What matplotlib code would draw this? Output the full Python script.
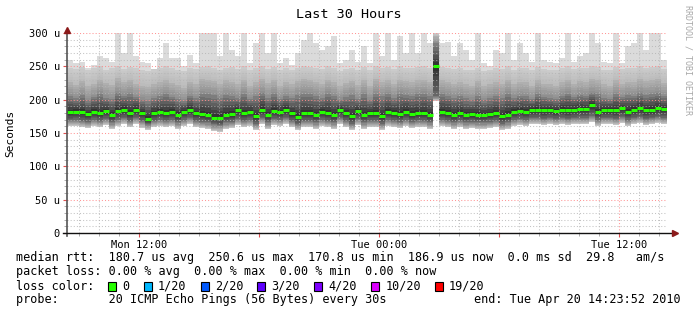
import matplotlib
matplotlib.use("Agg")
import matplotlib.pyplot as plt
import numpy as np
from matplotlib.patches import Rectangle

plt.rcParams['font.family'] = ['DejaVu Sans Mono']

# time axis: hours since Monday 00:00, 30 hour window ending Tue 14:23:52
t_end = 38 + 23 / 60 + 52 / 3600
window = 30.0
col_hours = 0.3   # one smoke column = 18 minutes

# median rtt per column (microseconds)
median_rtt = [181, 182, 181, 178, 182, 180, 183, 177, 183, 185, 180, 185, 180, 171, 180, 182, 180, 182, 177, 182,
              185, 180, 178, 177, 173, 173, 177, 178, 184, 180, 182, 175, 185,
              177, 183, 182, 185, 180, 174, 180, 180, 177, 182, 180, 177, 185, 180, 175, 183, 177, 180, 180, 175,
              182, 180, 178, 182, 178, 180, 180, 177, 250, 182, 180, 177, 180, 177,
              178, 177, 177, 178, 180, 175, 177, 182, 183, 182, 185, 185, 184, 185, 183, 185, 184, 185, 186, 186,
              192, 182, 185, 185, 184, 187, 182, 185, 187, 184, 185, 187, 186]

# smoke envelopes (microseconds), bottom to top
smoke_bottom = [160, 161, 159, 157, 161, 159, 162, 156, 161, 163, 159, 163, 158, 154, 159, 161, 159, 161, 156, 161,
                163, 159, 157, 156, 153, 152, 156, 157, 162, 159, 161, 155, 163,
                156, 162, 161, 163, 159, 155, 159, 159, 156, 161, 159, 156, 163, 159, 155, 162, 156, 159, 159, 155,
                161, 159, 157, 161, 157, 159, 159, 156, 198, 161, 159, 156, 159, 156,
                157, 156, 156, 157, 159, 155, 156, 161, 162, 161, 163, 163, 162, 163, 162, 163, 162, 163, 164, 164,
                167, 161, 163, 163, 162, 165, 161, 163, 165, 162, 163, 165, 164]
smoke_low = [169, 170, 168, 167, 170, 168, 171, 166, 170, 172, 168, 172, 168, 163, 168, 170, 168, 170, 166, 170,
             172, 168, 167, 166, 163, 162, 166, 167, 171, 168, 170, 164, 172,
             166, 171, 170, 172, 168, 164, 168, 168, 166, 170, 168, 166, 172, 168, 164, 171, 166, 168, 168, 164,
             170, 168, 167, 170, 167, 168, 168, 166, 205, 170, 168, 166, 168, 166,
             167, 166, 166, 167, 168, 164, 166, 170, 171, 170, 172, 172, 171, 172, 171, 172, 171, 172, 173, 173,
             176, 170, 172, 172, 171, 174, 170, 172, 174, 171, 172, 174, 173]
smoke_dark_top = [205, 202, 207, 199, 204, 209, 203, 201, 210, 206, 208, 204, 200, 198, 202, 205, 208, 204, 201, 198,
                  206, 202, 209, 208, 207, 203, 207, 206, 203, 209, 201, 205, 210,
                  203, 208, 201, 205, 202, 207, 209, 208, 206, 203, 209, 205, 200, 204, 207, 201, 208, 200, 209, 205,
                  208, 203, 209, 207, 205, 208, 209, 206, 285, 208, 206, 203, 205, 202,
                  200, 206, 199, 202, 205, 203, 209, 203, 206, 205, 201, 208, 204, 203, 201, 206, 209, 204, 207, 206,
                  210, 208, 203, 201, 208, 204, 207, 206, 210, 207, 208, 210, 205]
smoke_mid_top = [226, 222, 228, 220, 224, 230, 225, 222, 232, 227, 230, 224, 221, 219, 223, 226, 229, 225, 222, 218,
                 227, 223, 231, 230, 228, 224, 229, 227, 223, 230, 221, 226, 231,
                 225, 230, 221, 226, 223, 228, 231, 230, 227, 224, 230, 226, 220, 225, 228, 222, 229, 221, 231, 226,
                 229, 224, 230, 228, 226, 229, 230, 227, 295, 229, 227, 224, 226, 223,
                 221, 228, 220, 223, 226, 224, 230, 223, 227, 226, 221, 229, 224, 223, 221, 226, 230, 224, 228, 226,
                 231, 229, 223, 221, 229, 224, 227, 226, 231, 228, 229, 231, 225]
smoke_light_top = [248, 246, 249, 244, 247, 250, 245, 248, 250, 246, 249, 247, 244, 243, 246, 248, 250, 247, 245, 243,
                   248, 246, 249, 250, 248, 245, 247, 249, 246, 250, 244, 248, 250,
                   246, 249, 244, 247, 245, 248, 250, 249, 247, 246, 250, 248, 243, 246, 248, 245, 249, 244, 250, 247,
                   249, 246, 250, 248, 247, 249, 250, 248, 300, 249, 248, 246, 247, 245,
                   244, 248, 243, 245, 247, 246, 250, 245, 248, 247, 244, 249, 246, 245, 244, 247, 250, 246, 248, 247,
                   250, 249, 245, 244, 249, 246, 248, 247, 250, 248, 249, 250, 246]
smoke_max = [260, 255, 257, 247, 252, 265, 262, 257, 300, 270, 300, 265, 257, 255, 245, 262, 285, 262, 262, 250,
             267, 255, 300, 300, 300, 265, 300, 275, 265, 300, 255, 285, 300,
             270, 300, 255, 262, 252, 270, 290, 300, 285, 275, 280, 295, 255, 260, 275, 257, 280, 255, 300, 265,
             300, 260, 295, 270, 300, 270, 300, 285, 300, 285, 287, 265, 285, 275,
             260, 300, 255, 250, 275, 270, 300, 260, 285, 270, 257, 300, 260, 257, 255, 262, 300, 257, 265, 270,
             300, 285, 257, 255, 300, 255, 280, 285, 300, 275, 300, 300, 260]

x_ticks_labeled = {12: 'Mon 12:00', 24: 'Tue 00:00', 36: 'Tue 12:00'}
y_ticks = [0, 50, 100, 150, 200, 250, 300]

legend_rtt = "median rtt:  180.7 us avg  250.6 us max  170.8 us min  186.9 us now  0.0 ms sd  29.8   am/s"
legend_loss = "packet loss: 0.00 % avg  0.00 % max  0.00 % min  0.00 % now"
loss_labels = ['0', '1/20', '2/20', '3/20', '4/20', '10/20', '19/20']
loss_colors = ['#26ff00', '#00b8ff', '#0059ff', '#5e00ff', '#7e00ff', '#dd00ff', '#ff0000']
probe_text = "probe:       20 ICMP Echo Pings (56 Bytes) every 30s"
end_text = "end: Tue Apr 20 14:23:52 2010"

W, H = 697, 316
fig = plt.figure(figsize=(W / 100, H / 100), dpi=100)
fig.patch.set_facecolor('white')
ax = fig.add_axes([67 / W, 83 / H, 600 / W, 200 / H])

t_start = t_end - window
n = len(median_rtt)
xs = t_start + np.arange(n) * col_hours

# (lower, upper, grey at lower edge, grey at upper edge)
bands = [
    (smoke_bottom, smoke_low, 0.80, 0.45),
    (smoke_low, median_rtt, 0.42, 0.17),
    (median_rtt, smoke_dark_top, 0.17, 0.52),
    (smoke_dark_top, smoke_mid_top, 0.55, 0.70),
    (smoke_mid_top, smoke_light_top, 0.73, 0.80),
    (smoke_light_top, smoke_max, 0.86, 0.86),
]
steps = 6
for lo, hi, g0, g1 in bands:
    lo = np.asarray(lo, float)
    hi = np.asarray(hi, float)
    span = np.clip(hi - lo, 0, None)
    for k in range(steps):
        g = g0 + (g1 - g0) * (k + 0.5) / steps
        ax.bar(xs, span / steps, width=col_hours, bottom=lo + span * k / steps, align='edge',
               color=(g, g, g), linewidth=0, antialiased=False, zorder=1)

ax.hlines(median_rtt, xs, xs + col_hours, colors='#26ff00', linewidth=2.2, zorder=4)

ax.set_xlim(t_start, t_end)
ax.set_ylim(0, 300)
ax.set_xticks(np.arange(12, 39, 6))
ax.set_xticks(np.arange(9, 39, 1), minor=True)
ax.set_xticklabels([x_ticks_labeled.get(int(t), '') for t in np.arange(12, 39, 6)])
ax.set_yticks(y_ticks)
ax.set_yticks(np.arange(0, 301, 10), minor=True)
ax.set_yticklabels(['%d u' % v if v else '0' for v in y_ticks])

ax.set_axisbelow(False)
ax.grid(which='minor', color='#b4b4b4', linestyle=(0, (1, 2)), linewidth=0.75, alpha=0.8)
ax.grid(which='major', color='#ff8a8a', linestyle=(0, (1, 2)), linewidth=0.75, alpha=0.9)
ax.tick_params(which='both', labelsize=7.5, colors='#000000', pad=2)
ax.tick_params(which='minor', length=2, color='#a0a0a0')
ax.tick_params(which='major', length=3, color='#e05050')
ax.set_facecolor('white')
for s in ax.spines.values():
    s.set_visible(False)

# axis lines with arrows
ax.plot([0, 0], [-0.015, 1.0], transform=ax.transAxes, color='#555555', lw=1.2, clip_on=False, zorder=5)
ax.plot([-0.007, 1.008], [0, 0], transform=ax.transAxes, color='#111111', lw=1.0, clip_on=False, zorder=5)
ax.plot([0], [1.015], marker='^', ms=5, color='#8b1a1a', transform=ax.transAxes, clip_on=False, zorder=6)
ax.plot([1.013], [0], marker='>', ms=5, color='#8b1a1a', transform=ax.transAxes, clip_on=False, zorder=6)

fig.text(0.5, 1 - 14 / H, 'Last 30 Hours', ha='center', va='center', fontsize=9.7)
fig.text(10 / W, 1 - 133 / H, 'Seconds', rotation=90, ha='center', va='center', fontsize=8)
fig.text(688 / W, 1 - 5 / H, 'RRDTOOL / TOBI OETIKER', rotation=-90, ha='center', va='top',
         fontsize=6, color='#a8a8a8')

cw = 7.1   # legend character width in pixels
fs = 8.5
fig.text(16 / W, 1 - 258 / H, legend_rtt, ha='left', va='center', fontsize=fs)
fig.text(16 / W, 1 - 272 / H, legend_loss, ha='left', va='center', fontsize=fs)
fig.text(16 / W, 1 - 286 / H, 'loss color:', ha='left', va='center', fontsize=fs)
pos = 13
for lab, col in zip(loss_labels, loss_colors):
    bx = 16 + pos * cw
    fig.add_artist(Rectangle((bx / W, 1 - 291 / H), 8 / W, 9 / H, transform=fig.transFigure,
                             facecolor=col, edgecolor='black', linewidth=0.8))
    fig.text((bx + 2 * cw) / W, 1 - 286 / H, lab, ha='left', va='center', fontsize=fs)
    pos += len(lab) + 4
fig.text(16 / W, 1 - 300 / H, probe_text, ha='left', va='center', fontsize=fs)
fig.text(681 / W, 1 - 300 / H, end_text, ha='right', va='center', fontsize=fs)

fig.savefig('out.png', dpi=100, facecolor='white')
